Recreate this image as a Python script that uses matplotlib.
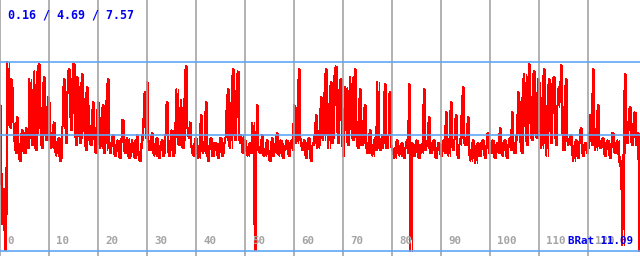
import numpy as np
import matplotlib
matplotlib.use("Agg")
import matplotlib.pyplot as plt

# valores, una muestra cada 0.25 unidades en x, un bloque por cada 10 unidades
bloque_0 = [5.9, 3.2, 1.2, 2.6, 0.2, 1.6, 7.57, 5.4, 5.0, 6.9, 6.6, 5.2, 4.3, 4.0, 5.4, 4.4, 3.7, 4.6, 4.9, 4.1,
            4.0, 5.0, 4.6, 4.2, 6.9, 5.3, 4.3, 6.1, 7.2, 4.1, 4.8, 7.4, 7.5, 5.0, 4.2, 6.5, 7.0, 4.7, 4.5, 6.2]
bloque_1 = [6.0, 4.6, 4.2, 4.9, 5.2, 4.1, 3.9, 4.5, 4.6, 3.7, 3.8, 5.0, 6.9, 5.5, 4.4, 6.3, 7.3, 6.0, 4.9, 6.8,
            7.5, 5.1, 4.3, 7.0, 6.8, 4.4, 4.6, 7.1, 6.4, 4.8, 4.1, 6.6, 5.9, 4.5, 4.3, 5.4, 6.0, 4.6, 4.0, 5.3]
bloque_2 = [6.0, 4.4, 4.2, 5.6, 5.9, 4.0, 4.1, 6.2, 6.9, 4.3, 4.0, 4.4, 4.7, 4.0, 3.9, 4.3, 4.5, 3.9, 3.8, 4.4,
            5.3, 4.2, 4.0, 4.5, 4.6, 3.8, 3.9, 4.3, 4.5, 4.0, 3.8, 4.4, 4.7, 3.9, 3.7, 4.2, 4.5, 5.2, 6.4, 4.6]
bloque_3 = [6.8, 4.5, 4.1, 4.4, 4.8, 4.0, 3.9, 4.4, 4.6, 3.9, 3.8, 4.3, 4.5, 3.9, 4.0, 4.6, 6.0, 4.2, 3.9, 4.4,
            4.9, 3.9, 4.0, 4.7, 6.5, 4.4, 4.3, 5.6, 6.1, 4.2, 4.5, 7.2, 7.4, 5.0, 4.6, 5.2, 4.3, 4.0, 3.9, 4.5]
bloque_4 = [4.6, 4.0, 3.8, 4.4, 5.5, 4.1, 4.0, 4.5, 6.0, 4.0, 3.7, 4.3, 4.6, 3.9, 3.9, 4.4, 4.4, 4.0, 3.8, 4.3,
            4.6, 3.9, 4.0, 4.4, 4.5, 5.8, 6.5, 4.3, 4.2, 6.0, 7.3, 4.8, 4.5, 6.4, 7.2, 4.6, 4.4, 4.7, 4.0, 4.3]
bloque_5 = [4.5, 4.1, 3.9, 4.3, 4.4, 4.0, 5.2, 4.3, 0.2, 4.2, 5.9, 4.1, 4.0, 4.4, 4.7, 3.9, 3.9, 4.3, 4.5, 4.0,
            3.7, 4.2, 4.6, 3.9, 4.0, 4.4, 4.8, 4.0, 3.9, 4.5, 4.4, 3.8, 4.1, 4.3, 4.5, 4.0, 3.9, 4.4, 4.5, 4.1]
bloque_6 = [5.9, 4.5, 4.4, 6.0, 7.3, 4.6, 4.3, 4.1, 4.5, 4.0, 3.8, 4.4, 4.6, 3.9, 3.7, 4.3, 4.4, 4.8, 5.5, 4.2,
            4.3, 5.0, 6.2, 4.6, 4.5, 6.6, 7.3, 5.0, 4.2, 6.0, 6.8, 4.4, 4.6, 7.0, 7.4, 5.2, 4.4, 6.4, 6.9, 4.8]
bloque_7 = [3.9, 5.5, 6.6, 4.6, 4.3, 6.2, 7.0, 4.8, 4.5, 6.8, 7.3, 4.6, 4.2, 5.8, 6.5, 4.3, 4.4, 5.6, 5.9, 4.2,
            4.0, 4.5, 4.9, 4.0, 3.9, 4.4, 4.6, 4.1, 6.8, 4.4, 4.1, 4.5, 4.7, 4.2, 6.7, 4.6, 4.2, 4.4, 6.4, 4.3]
bloque_8 = [4.2, 4.0, 3.8, 4.3, 4.5, 4.0, 3.9, 4.3, 4.4, 3.9, 3.8, 4.2, 4.5, 4.0, 6.7, 0.16, 4.4, 4.0, 3.9, 4.3,
            4.5, 3.9, 3.8, 4.3, 4.0, 4.4, 6.5, 4.1, 4.2, 4.5, 5.4, 4.0, 4.0, 4.4, 4.5, 3.9, 3.8, 4.2, 4.4, 4.0]
bloque_9 = [3.9, 4.3, 4.5, 4.0, 5.6, 4.2, 3.9, 4.6, 6.0, 4.3, 4.1, 4.5, 5.5, 4.0, 3.8, 4.3, 4.6, 5.8, 6.6, 4.4,
            4.3, 4.7, 5.4, 4.0, 3.7, 4.2, 4.5, 3.9, 3.6, 4.3, 4.4, 3.9, 3.9, 4.4, 4.5, 4.0, 3.8, 4.2, 4.8, 4.0]
bloque_10 = [4.0, 4.4, 4.5, 3.9, 3.8, 4.3, 4.4, 4.0, 5.0, 4.1, 3.9, 4.4, 4.5, 3.9, 3.8, 4.3, 4.6, 4.1, 5.6, 4.2,
             4.0, 4.5, 4.8, 6.4, 6.2, 4.2, 4.0, 6.8, 7.1, 5.0, 4.3, 6.6, 7.5, 5.2, 4.5, 7.0, 7.2, 4.8, 4.6, 6.9]
bloque_11 = [6.8, 5.0, 4.2, 6.5, 7.3, 4.6, 3.9, 6.0, 6.9, 5.1, 4.4, 6.7, 7.0, 4.8, 4.3, 5.8, 6.6, 6.0, 7.45, 4.9,
             4.1, 6.2, 6.9, 4.5, 4.3, 4.6, 4.7, 4.0, 3.7, 4.3, 4.5, 3.9, 3.8, 4.4, 5.0, 4.1, 3.9, 4.3, 4.4, 4.0]
bloque_12 = [4.2, 4.6, 5.5, 4.3, 7.3, 4.7, 4.1, 5.0, 5.9, 4.3, 4.2, 4.5, 4.6, 4.0, 3.9, 4.4, 4.5, 4.0, 3.8, 4.3,
             4.8, 4.1, 4.0, 4.4, 4.5, 3.9, 3.5, 3.7, 0.4, 4.0, 7.1, 4.6, 4.4, 5.2, 5.8, 4.5, 4.3, 5.1, 5.6, 4.3,
             4.4, 4.8, 0.16]

bloques = [bloque_0, bloque_1, bloque_2, bloque_3, bloque_4, bloque_5, bloque_6,
           bloque_7, bloque_8, bloque_9, bloque_10, bloque_11, bloque_12]
x = np.concatenate([10 * i + 0.25 * np.arange(len(b)) for i, b in enumerate(bloques)])
valores = np.concatenate([np.array(b) for b in bloques])

minimo, media, maximo = 0.16, 4.69, 7.57
marcas_x = list(range(0, 130, 10))
etiqueta_final = "BRat 11.09"

color_rejilla = "#a4a4a4"
color_azul = "#5ea8f6"
color_texto = "#0000f0"
rojo = "#ff0000"
px = 0.72  # un pixel en puntos a 100 dpi

fig = plt.figure(figsize=(6.4, 2.56), dpi=100)
ax = fig.add_axes([0, 0, 1, 1])
ax.set_xlim(0, 640 / 4.9)
ax.set_ylim(-0.036, 10.0)
ax.axis("off")

# curva roja, sin suavizado como en el original
ax.plot(x, valores, color=rojo, linewidth=px, antialiased=False, zorder=1)
ax.vlines(x[1:], np.minimum(valores[:-1], valores[1:]), np.maximum(valores[:-1], valores[1:]),
          color=rojo, linewidth=px, antialiased=False, zorder=1)

# rejilla vertical y etiquetas
for m in marcas_x:
    ax.axvline(m, color=color_rejilla, linewidth=1.2, zorder=2)
    ax.annotate(str(m), xy=(m, 0), xycoords=("data", "axes fraction"),
                xytext=(7, 15), textcoords="offset pixels",
                ha="left", va="center", fontsize=7.8,
                family="DejaVu Sans Mono", fontweight="bold", color=color_rejilla)

# lineas de min / media / max
for v in (minimo, media, maximo):
    ax.axhline(v, color=color_azul, linewidth=1.2, zorder=2)

ax.annotate(etiqueta_final, xy=(1, 0), xycoords="axes fraction",
            xytext=(-7, 15), textcoords="offset pixels", ha="right", va="center",
            fontsize=7.8, family="DejaVu Sans Mono", fontweight="bold",
            color=color_texto, zorder=3)

ax.annotate(f"{minimo:.2f} / {media:.2f} / {maximo:.2f}", xy=(0, 1), xycoords="axes fraction",
            xytext=(8, -15), textcoords="offset pixels", ha="left", va="center",
            fontsize=8.4, family="DejaVu Sans Mono", fontweight="bold", color=color_texto)

fig.savefig("out.png", dpi=100)
